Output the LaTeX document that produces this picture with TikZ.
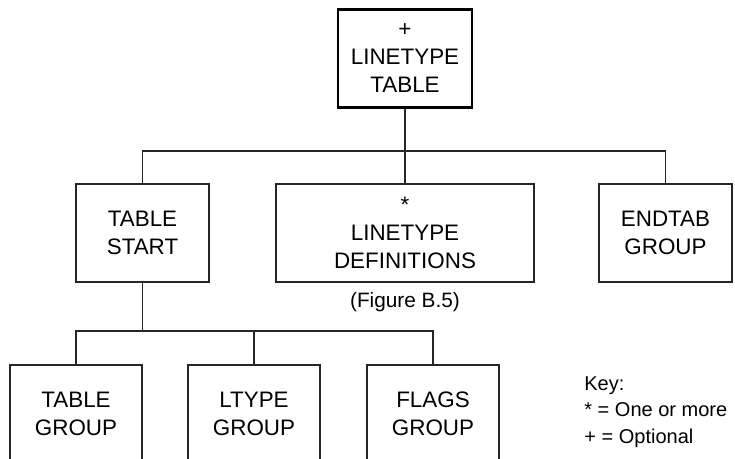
\documentclass[tikz,border=0pt]{standalone}
\usepackage{fontspec}
\setmainfont{Liberation Sans}
\usepackage{tikz}
\usetikzlibrary{calc}
\usetikzlibrary{positioning}
\newcommand{\boxText}{\fontsize{11.2}{14}\selectfont}
\newcommand{\noteText}{\fontsize{10}{13.25}\selectfont}
\newcommand{\figText}{\fontsize{10.4}{13}\selectfont}
\newcommand{\lineColor}{black!85}
\tikzset{
    block/.style = {draw=\lineColor, line width=0.6pt, align=center, inner sep=0pt,
                    minimum height=49pt, minimum width=#1, font=\boxText},
    block/.default = 66.5pt,
    rootBlock/.style = {block=67pt, draw=black, line width=1.3pt},
    wire/.style = {draw=\lineColor, line width=0.55pt}
}

\begin{document}
\begin{tikzpicture}[x=0.5pt, y=-0.5pt]
    \useasboundingbox (0,0) rectangle (735,459);

    \node[rootBlock] (table) at (405,58.5) {+\\LINETYPE\\TABLE};

    \node[block] (start) at (142.5,233) {TABLE\\START};
    \node[block=129pt] (defs) at (405,233) {*\\LINETYPE\\DEFINITIONS};
    \node[block] (endtab) at (665.5,233) {ENDTAB\\GROUP};
    \node[font=\figText, inner sep=0pt] (figref) at (405,302) {(Figure B.5)};

    \foreach \x/\name/\txt in {76/tgroup/TABLE, 254/lgroup/LTYPE, 433/fgroup/FLAGS}{
        \node[block=66pt] (\name) at (\x,414) {\txt\\GROUP};
    }

    \node[anchor=west, align=left, inner sep=0pt, font=\noteText] (key) at (584,412)
        {Key:\\* = One or more\\+ = Optional};

    \coordinate (busTop) at (405,151);
    \coordinate (busLow) at (142.5,331);

    \draw[wire] (table) -- (busTop) -- (defs);
    \draw[wire] (start.north) |- (busTop) -| (endtab.north);
    \draw[wire] (start) -- (busLow);
    \draw[wire] (tgroup.north) |- (busLow) -| (fgroup.north);
    \draw[wire] (lgroup.north |- busLow) -- (lgroup);

\end{tikzpicture}
\end{document}
